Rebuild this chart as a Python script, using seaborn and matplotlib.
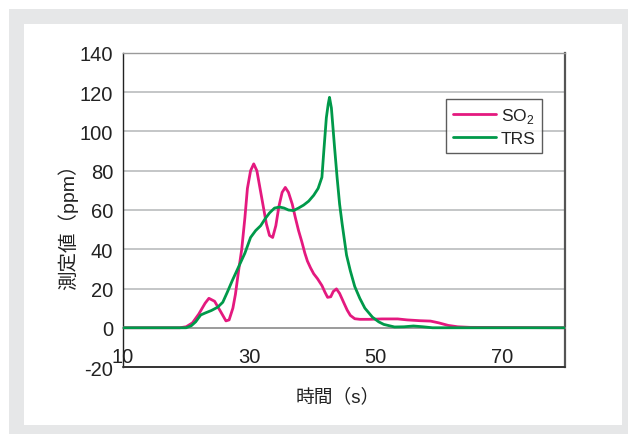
import matplotlib
matplotlib.use("Agg")
import matplotlib.pyplot as plt
from matplotlib.patches import Rectangle
import seaborn as sns

# Data
so2_t = [10, 19.0, 20.0, 21.0, 22.0, 23.0, 23.6, 24.5, 25.5, 26.3, 26.8, 27.4, 27.8,
         28.3, 28.8, 29.3, 29.7, 30.2, 30.7, 31.2, 31.7, 32.2, 32.7, 33.2, 33.7, 34.2,
         34.7, 35.2, 35.7, 36.2, 36.8, 37.3, 37.8, 38.3, 38.8, 39.2, 39.7, 40.2, 40.8,
         41.5, 42.0, 42.4, 42.9, 43.3, 43.8, 44.3, 45.0, 45.5, 46.0, 46.7, 47.5, 49.0,
         51.0, 53.5, 55.0, 57.0, 58.7, 60.0, 61.5, 63.0, 65.0, 80]
so2_v = [0, 0, 0.5, 2.5, 7, 12.5, 15, 13.5, 8, 3.5, 4, 10, 17,
         29, 40, 56, 71, 80, 83.5, 80, 71, 62, 53, 47, 46, 52,
         62, 69, 71.5, 69, 63, 56, 49.5, 44, 38, 34, 30.5, 27.5, 25,
         21.5, 18, 15.5, 15.8, 18.5, 19.8, 17.5, 12.5, 9, 6.3, 4.6, 4.3, 4.3,
         4.5, 4.5, 4, 3.6, 3.4, 2.5, 1.2, 0.5, 0.2, 0]

trs_t = [10, 20.0, 20.8, 21.5, 22.3, 23.0, 24.0, 25.0, 25.8, 26.5, 27.3, 28.3, 29.3,
         30.2, 31.0, 31.8, 32.5, 33.2, 34.0, 34.8, 35.5, 36.2, 37.0, 37.8, 38.6, 39.4,
         40.2, 40.9, 41.5, 41.8, 42.2, 42.5, 42.7, 43.0, 43.2, 43.5, 43.9, 44.3, 44.7,
         45.4, 46.0, 46.7, 47.5, 48.3, 49.5, 50.5, 51.3, 53.0, 54.5, 56.0, 57.5, 59.0, 80]
trs_v = [0, 0, 1, 3, 6.5, 7.5, 8.8, 10.5, 13, 18, 24, 31, 38,
         46, 49.5, 52, 55.5, 58.5, 61, 61.5, 61, 60, 59.7, 61, 62.5, 64.5,
         67.5, 71, 76.7, 90, 107, 114, 117.4, 112, 104, 92, 76.7, 63, 53,
         37, 29, 21, 15, 10, 5.4, 3, 1.7, 0.4, 0.5, 0.9, 0.5, 0, 0]

x_ticks = [10, 30, 50, 70]
y_ticks = [-20, 0, 20, 40, 60, 80, 100, 120, 140]

sns.set_style("white")
plt.rcParams['font.family'] = ['Liberation Sans', 'Noto Sans CJK JP', 'DejaVu Sans']
plt.rcParams['mathtext.fontset'] = 'custom'
plt.rcParams['mathtext.rm'] = 'Liberation Sans'
plt.rcParams['axes.unicode_minus'] = False

fig = plt.figure(figsize=(6.28, 4.35), dpi=100)
fig.patch.set_facecolor('white')
# grey frame with white panel
fig.patches.append(Rectangle((0.0143, 0.0), 0.9857, 0.977, transform=fig.transFigure,
                             facecolor='#e6e7e8', edgecolor='none', zorder=-10))
fig.patches.append(Rectangle((0.0382, 0.0207), 0.9522, 0.9218, transform=fig.transFigure,
                             facecolor='white', edgecolor='none', zorder=-9))

ax = fig.add_axes([0.1959, 0.154, 0.7038, 0.7219])
ax.set_facecolor('none')

pink = '#e4197f'
green = '#00994a'
sns.lineplot(x=so2_t, y=so2_v, ax=ax, color=pink, linewidth=2.0, label='SO$_2$',
             estimator=None, sort=False, zorder=5)
sns.lineplot(x=trs_t, y=trs_v, ax=ax, color=green, linewidth=2.0, label='TRS',
             estimator=None, sort=False, zorder=6)

ax.set_xlim(10, 80)
ax.set_ylim(-20, 140)
ax.set_xticks(x_ticks)
ax.set_yticks(y_ticks)

# horizontal grid
for y in [20, 40, 60, 80, 100, 120]:
    ax.axhline(y, color='#b4b6b8', linewidth=1.1, zorder=1)

# x axis sits on zero, frame drawn at -20
ax.spines['bottom'].set_position(('data', 0))
ax.spines['bottom'].set_color('#8a8a8a')
ax.spines['bottom'].set_linewidth(1.2)
ax.axhline(-20, color='#333333', linewidth=1.4, clip_on=False, zorder=7)
ax.spines['left'].set_color('#222222')
ax.spines['left'].set_linewidth(1.0)
ax.spines['top'].set_color('#9a9a9a')
ax.spines['top'].set_linewidth(1.0)
ax.spines['right'].set_color('#555555')
ax.spines['right'].set_linewidth(1.6)

ax.tick_params(axis='x', direction='in', length=4, width=1, color='#666666',
               pad=14, labelsize=14.5, labelcolor='#222222')
ax.tick_params(axis='y', direction='in', length=5, width=1, color='#333333',
               pad=7, labelsize=14.5, labelcolor='#222222')

ax.set_ylabel('測定値（ppm）', fontsize=14, color='#222222')
ax.yaxis.set_label_coords(-0.102, 0.465)
ax.set_xlabel('時間（s）', fontsize=13.5, color='#222222')
ax.xaxis.set_label_coords(0.486, -0.064)

leg = ax.legend(loc='upper left', bbox_to_anchor=(0.731, 0.8535), borderaxespad=0,
                frameon=True, fancybox=False, edgecolor='#333333', fontsize=12.5,
                handlelength=2.5, handletextpad=0.25, labelspacing=0.35,
                borderpad=0.4)
leg.get_frame().set_linewidth(1.0)
for t in leg.get_texts():
    t.set_color('#222222')

fig.savefig('out.png', dpi=100)
